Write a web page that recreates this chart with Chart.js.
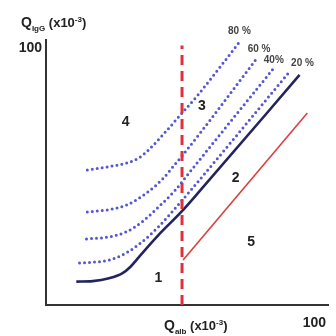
<!DOCTYPE html>
<html><head><meta charset="utf-8">
<script src="https://cdn.jsdelivr.net/npm/chart.js@4"></script>
<style>html,body{margin:0;padding:0;background:#fff}</style>
</head><body>
<canvas id="c" width="336" height="336"></canvas>
<script>
// tick labels
const xTickLabels = [100];
const yTickLabels = [100];
// axis titles (main, subscript, unit, superscript, close)
const yTitle = ['Q', 'IgG', ' (x10', '-3', ')'];
const xTitle = ['Q', 'alb', ' (x10', '-3', ')'];

// discrimination line (solid navy)
const limitX = [11.3, 17.4, 23.5, 28.4, 31.5, 35.8, 41.9, 50.5, 56.6, 94.5];
const limitY = [9.1, 9.3, 10.4, 12.3, 14.9, 20.1, 27.2, 36.3, 43.5, 89.5];
// red solid line
const redX = [51.1, 97.4];
const redY = [17.5, 74.7];
// red dashed vertical
const dashX = [50.7, 50.7];
const dashY = [0, 101];
// intrathecal fraction lines
const p20X = [12.5, 23.5, 29.8, 35.7, 41.9, 48.2, 54.0, 90.4];
const p20Y = [16.3, 17.5, 20.2, 24.5, 30.4, 37.7, 44.7, 90.3];
const p40X = [15.1, 23.5, 29.8, 35.7, 41.9, 48.2, 51.8, 84.9];
const p40Y = [25.7, 26.5, 28.4, 32.3, 38.1, 44.7, 49.4, 92.2];
const p60X = [15.4, 22.8, 30.1, 37.5, 43.8, 48.5, 50.4, 78.7];
const p60Y = [36.2, 37.0, 38.9, 43.6, 49.4, 55.3, 57.6, 96.1];
const p80X = [15.4, 22.8, 30.1, 34.6, 38.2, 43.8, 50.4, 56.6, 72.1];
const p80Y = [52.5, 53.7, 55.3, 57.2, 60.3, 66.5, 74.3, 81.7, 102.3];
// percent labels
const pctLabels = ['80 %', '60 %', '40%', '20 %'];
const pctX = [72.1, 79.4, 84.9, 95.6];
const pctY = [106.6, 99.6, 95.3, 94.2];
// region numbers
const regionLabels = ['1', '2', '3', '4', '5'];
const regionX = [41.9, 70.7, 58.1, 29.7, 76.5];
const regionY = [10.4, 49.3, 77.2, 71.3, 24.6];

const pts = (xs, ys) => xs.map((x, i) => ({x, y: ys[i]}));
const FONT = '"Liberation Sans", Arial, sans-serif';
const dotted = (xs, ys) => ({
  data: pts(xs, ys), borderColor: '#5656d2', borderWidth: 3,
  borderDash: [0, 5], borderCapStyle: 'round', cubicInterpolationMode: 'monotone',
  pointRadius: 0, fill: false, order: 2
});

function richText(ctx, segs, x, y) {
  const spec = [[14, 0], [8, 4], [13, 0], [8, -5], [13, 0]];
  segs.forEach((t, i) => {
    ctx.font = 'bold ' + spec[i][0] + 'px ' + FONT;
    ctx.fillText(t, x, y + spec[i][1]);
    x += ctx.measureText(t).width;
  });
}

const textPlugin = {
  id: 'texts',
  afterDatasetsDraw(chart) {
    const ctx = chart.ctx, sx = chart.scales.x, sy = chart.scales.y;
    ctx.save();
    ctx.fillStyle = '#222';
    ctx.textAlign = 'left'; ctx.textBaseline = 'alphabetic';
    richText(ctx, yTitle, 21, 27);
    richText(ctx, xTitle, 164, 330);
    ctx.textAlign = 'center'; ctx.textBaseline = 'middle';
    ctx.font = 'bold 14px ' + FONT;
    regionLabels.forEach((t, i) => ctx.fillText(t, sx.getPixelForValue(regionX[i]), sy.getPixelForValue(regionY[i])));
    ctx.fillStyle = '#444';
    ctx.font = 'bold 10px ' + FONT;
    pctLabels.forEach((t, i) => ctx.fillText(t, sx.getPixelForValue(pctX[i]), sy.getPixelForValue(pctY[i])));
    ctx.restore();
  }
};

new Chart(document.getElementById('c'), {
  type: 'line',
  data: {
    datasets: [
      {data: pts(dashX, dashY), borderColor: '#e0303a', borderWidth: 3, borderDash: [10, 6], pointRadius: 0, tension: 0, order: 0},
      {data: pts(limitX, limitY), borderColor: '#23235f', borderWidth: 2.6, cubicInterpolationMode: 'monotone', pointRadius: 0, order: 1},
      {data: pts(redX, redY), borderColor: '#d9403f', borderWidth: 1.6, pointRadius: 0, tension: 0, order: 1},
      dotted(p20X, p20Y), dotted(p40X, p40Y), dotted(p60X, p60Y), dotted(p80X, p80Y)
    ]
  },
  options: {
    responsive: false, animation: false, devicePixelRatio: 1,
    layout: {padding: {left: 0, top: 40, right: 0, bottom: 0}},
    plugins: {legend: {display: false}, tooltip: {enabled: false}},
    scales: {
      x: {
        type: 'linear', min: 0, max: 105.1,
        grid: {display: false, drawTicks: false},
        border: {display: true, color: '#333', width: 2},
        ticks: {padding: 10, color: '#222', font: {size: 14, weight: 'bold', family: FONT}, maxRotation: 0, autoSkip: false},
        afterBuildTicks: s => { s.ticks = xTickLabels.map(v => ({value: v})); },
        afterFit: s => { s.height = 31; }
      },
      y: {
        type: 'linear', min: 0, max: 103.1,
        grid: {display: false, drawTicks: false},
        border: {display: true, color: '#333', width: 2},
        ticks: {padding: 4, color: '#222', font: {size: 14, weight: 'bold', family: FONT}, autoSkip: false},
        afterBuildTicks: s => { s.ticks = yTickLabels.map(v => ({value: v})); },
        afterFit: s => { s.width = 46; }
      }
    }
  },
  plugins: [textPlugin]
});
</script>
</body></html>
